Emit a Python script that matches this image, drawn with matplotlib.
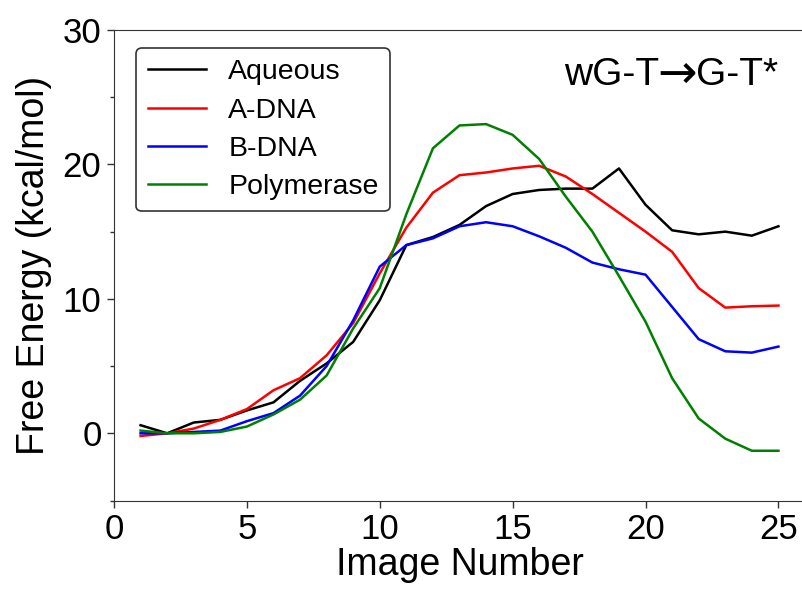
import matplotlib
matplotlib.use('Agg')
import matplotlib.pyplot as plt
from matplotlib.transforms import offset_copy

plt.rcParams['font.family'] = ['Liberation Sans', 'DejaVu Sans']

image = list(range(1, 26))
aqueous = [0.6, 0.0, 0.8, 1.0, 1.7, 2.3, 3.9, 5.2, 6.8, 9.9, 14.0, 14.6, 15.5, 16.9, 17.8,
           18.1, 18.2, 18.2, 19.7, 17.0, 15.1, 14.8, 15.0, 14.7, 15.4]
a_dna = [-0.2, 0.0, 0.35, 1.0, 1.8, 3.2, 4.1, 5.8, 8.2, 11.9, 15.3, 17.9, 19.2, 19.4, 19.7,
         19.9, 19.1, 17.8, 16.4, 15.0, 13.5, 10.8, 9.35, 9.45, 9.5]
b_dna = [0.0, 0.0, 0.1, 0.2, 0.9, 1.5, 2.8, 5.0, 8.4, 12.4, 14.0, 14.5, 15.4, 15.7, 15.4,
         14.65, 13.8, 12.7, 12.2, 11.8, 9.4, 7.0, 6.1, 6.0, 6.45]
polymerase = [0.2, 0.0, 0.0, 0.1, 0.5, 1.4, 2.5, 4.3, 7.8, 10.8, 16.3, 21.2, 22.9, 23.0, 22.2,
              20.4, 17.6, 15.0, 11.7, 8.3, 4.1, 1.1, -0.4, -1.3, -1.3]

fig = plt.figure(figsize=(8.02, 5.93), dpi=100)
ax = fig.add_axes([114 / 802, 1 - 500.5 / 593, (805 - 114) / 802, (500.5 - 30) / 593])

ax.plot(image, aqueous, color='black', lw=1.8, label='Aqueous')
ax.plot(image, a_dna, color='red', lw=1.8, label='A-DNA')
ax.plot(image, b_dna, color='blue', lw=1.8, label='B-DNA')
ax.plot(image, polymerase, color='green', lw=1.8, label='Polymerase')

ax.set_xlim(0, 26)
ax.set_ylim(-5, 30)
ax.set_xticks([0, 5, 10, 15, 20, 25])
ax.set_yticks([0, 10, 20, 30])
ax.set_yticks([-5, 5, 15, 25], minor=True)
ax.tick_params(labelsize=25, length=5, width=1, color='#333333', pad=4)
ax.tick_params(which='minor', length=3, width=1, color='#333333')
ax.spines['right'].set_visible(False)
for s in ax.spines.values():
    s.set_color('#333333')

ax.set_xlabel('Image Number', fontsize=27, labelpad=1)
ax.set_ylabel('Free Energy (kcal/mol)', fontsize=27, labelpad=8)

leg = ax.legend(loc='upper left', bbox_to_anchor=(0.032, 0.962), borderaxespad=0,
                fontsize=20.5, handlelength=2.07, handletextpad=0.77, labelspacing=0.43,
                borderpad=0.4, fancybox=True, framealpha=1)
leg.get_frame().set_edgecolor('#333333')
leg.get_frame().set_linewidth(1.2)

# title text in three pieces, right-aligned at image 25
fig.canvas.draw()
r = fig.canvas.get_renderer()
t3 = ax.text(0.961, 0.883, 'G-T*', transform=ax.transAxes, fontsize=28,
             ha='right', va='baseline')
w3 = t3.get_window_extent(r).width
t2 = ax.text(0.961, 0.883, '\u2192', fontsize=34, family='DejaVu Sans',
             transform=offset_copy(ax.transAxes, fig=fig, x=-w3 + 1, y=-3, units='dots'),
             ha='right', va='baseline')
w2 = t2.get_window_extent(r).width
ax.text(0.961, 0.883, 'wG-T', transform=offset_copy(ax.transAxes, fig=fig, x=-w3 - w2 + 3,
        y=0, units='dots'), fontsize=28, ha='right', va='baseline')

fig.savefig('out.png', dpi=100)
